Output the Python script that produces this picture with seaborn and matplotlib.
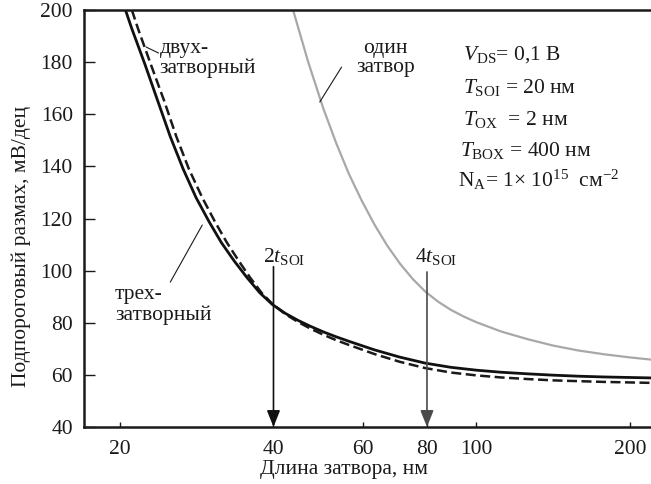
import matplotlib
matplotlib.use("Agg")
import matplotlib.pyplot as plt
import seaborn as sns
import pandas as pd
from matplotlib.ticker import FixedLocator, FixedFormatter, NullLocator

# ---- data ----
tri_x = [20.5, 21.1, 22.4, 23.7, 25.1, 26.6, 28.2, 29.9, 31.6, 33.5, 35.5, 37.6, 39.8, 42.2, 44.7,
         47.3, 50.1, 53.1, 56.2, 63.1, 70.8, 79.4, 89.1, 100, 112, 126, 141, 158, 178, 200, 224]
tri_y = [200, 192.8, 179.0, 165.3, 151.4, 139.0, 128.0, 118.8, 110.8, 103.7, 97.3, 91.5, 87.0, 83.6, 80.9,
         78.6, 76.5, 74.6, 72.9, 69.6, 66.8, 64.5, 62.9, 61.8, 61.0, 60.4, 59.9, 59.5, 59.2, 59.0, 58.8]

dbl_x = [21.1, 21.7, 23.0, 24.4, 25.8, 27.3, 29.0, 30.7, 32.4, 34.2, 36.0, 37.9, 39.9, 42.2, 44.7,
         47.3, 50.1, 53.1, 56.2, 63.1, 70.8, 79.4, 89.1, 100, 112, 126, 141, 158, 178, 200, 224]
dbl_y = [200, 192.8, 179.0, 165.3, 151.4, 139.0, 128.0, 118.8, 110.8, 103.7, 97.3, 91.5, 87.0, 83.3, 80.3,
         77.7, 75.4, 73.3, 71.5, 68.0, 65.0, 62.6, 60.9, 59.8, 59.0, 58.4, 57.9, 57.6, 57.3, 57.1, 56.9]

one_x = [43.7, 46.8, 50.1, 53.1, 56.2, 59.6, 63.1, 66.8, 70.8, 75.0, 79.4, 84.1, 89.1, 94.4, 100,
         112, 126, 141, 158, 178, 200, 224]
one_y = [200, 180.0, 162.2, 148.9, 137.2, 126.8, 117.7, 109.7, 102.7, 96.8, 91.95, 88.1, 84.95, 82.4, 80.2,
         76.6, 73.7, 71.3, 69.4, 67.9, 66.7, 65.7]

x_ticks = [20, 40, 60, 80, 100, 200]
y_ticks = [40, 60, 80, 100, 120, 140, 160, 180, 200]
arrow_x = [40, 80]
arrow_top = [101.5, 99.5]

xlabel = "Длина затвора, нм"
ylabel = "Подпороговый размах, мВ/дец"

sns.set_theme(style="ticks")
plt.rcParams["font.family"] = ["Liberation Serif", "DejaVu Serif"]
plt.rcParams["mathtext.fontset"] = "custom"
plt.rcParams["mathtext.rm"] = "Liberation Serif"
plt.rcParams["mathtext.it"] = "Liberation Serif:italic"
plt.rcParams["mathtext.bf"] = "Liberation Serif:bold"

FS = 15.5
tc = "#1a1a1a"

fig = plt.figure(figsize=(6.51, 4.84), dpi=100)
ax = fig.add_axes([84 / 651, 57 / 484, 1 - 84 / 651, (427 - 10) / 484])

df_tri = pd.DataFrame({"x": tri_x, "y": tri_y})
df_dbl = pd.DataFrame({"x": dbl_x, "y": dbl_y})
df_one = pd.DataFrame({"x": one_x, "y": one_y})

sns.lineplot(data=df_one, x="x", y="y", ax=ax, color="#a8a8a8", lw=1.6, sort=False)
sns.lineplot(data=df_dbl, x="x", y="y", ax=ax, color="#1a1a1a", lw=1.8, sort=False,
             linestyle=(0, (4, 1.8)))
sns.lineplot(data=df_tri, x="x", y="y", ax=ax, color="#111111", lw=2.0, sort=False)

ax.set_xscale("log")
ax.set_xlim(17.0, 220)
ax.set_ylim(40, 200)
ax.xaxis.set_major_locator(FixedLocator(x_ticks))
ax.xaxis.set_major_formatter(FixedFormatter([str(v) for v in x_ticks]))
ax.xaxis.set_minor_locator(NullLocator())
ax.set_yticks(y_ticks)
ax.set_yticklabels([str(v) for v in y_ticks])

for s in ["left", "bottom", "top"]:
    ax.spines[s].set_linewidth(1.8)
    ax.spines[s].set_color(tc)
ax.spines["right"].set_visible(False)

ax.tick_params(axis="y", direction="in", length=8, width=1.0, pad=8, labelsize=FS, colors=tc)
ax.tick_params(axis="x", direction="in", length=3.5, width=1.0, pad=9, labelsize=FS, colors=tc)
ax.set_xlabel(xlabel, fontsize=FS, color=tc)
ax.set_ylabel(ylabel, fontsize=FS, color=tc)
ax.xaxis.set_label_coords(0.458, -0.078)
ax.yaxis.set_label_coords(-0.094, 0.434)

# arrows
cols = ["#111111", "#4a4a4a"]
for xv, yt, c in zip(arrow_x, arrow_top, cols):
    ax.annotate("", xy=(xv, 40), xytext=(xv, yt),
                arrowprops=dict(arrowstyle="-|>,head_length=0.4,head_width=0.16",
                                color=c, lw=1.2, mutation_scale=25,
                                shrinkA=0, shrinkB=0))
ax.text(38.1, 103.3, r"$2t_{\mathrm{SOI}}$", ha="left", va="baseline", fontsize=FS, color=tc)
ax.text(75.8, 103.3, r"$4t_{\mathrm{SOI}}$", ha="left", va="baseline", fontsize=FS, color=tc)

# curve labels with leader lines
ax.text(23.9, 181.4, "двух-\nзатворный", ha="left", va="center", fontsize=FS,
        color=tc, linespacing=1.0)
ax.annotate("", xy=(22.5, 185.8), xytext=(23.8, 183.5),
            arrowprops=dict(arrowstyle="-", color=tc, lw=0.8, shrinkA=0, shrinkB=0))

ax.text(19.55, 86.8, "трех-\nзатворный", ha="left", va="center", fontsize=FS,
        color=tc, linespacing=1.1)
ax.annotate("", xy=(29.0, 117.5), xytext=(25.1, 95.6),
            arrowprops=dict(arrowstyle="-", color=tc, lw=0.8, shrinkA=0, shrinkB=0))

ax.text(66.4, 181.4, "один\nзатвор", ha="center", va="center", fontsize=FS,
        color=tc, linespacing=1.0)
ax.annotate("", xy=(49.3, 164.7), xytext=(54.4, 178.1),
            arrowprops=dict(arrowstyle="-", color=tc, lw=0.8, shrinkA=0, shrinkB=0))

# parameter block
params = [
    r"$V_{\mathrm{DS}}$= 0,1 В",
    r"$T_{\mathrm{SOI}}$ = 20 нм",
    r"$T_{\mathrm{OX}}$  = 2 нм",
    r"$T_{\mathrm{BOX}}$ = 400 нм",
    r"$\mathrm{N}_{\mathrm{A}}$= 1× 10$^{15}$  см$^{-2}$",
]
px_x = [463, 463, 463, 460, 458]
px_y = [60, 93, 125, 156, 187]
for t, xx, yy in zip(params, px_x, px_y):
    fig.text(xx / 651, 1 - yy / 484, t, ha="left", va="baseline", fontsize=FS, color=tc)

fig.savefig("out.png", dpi=100)
